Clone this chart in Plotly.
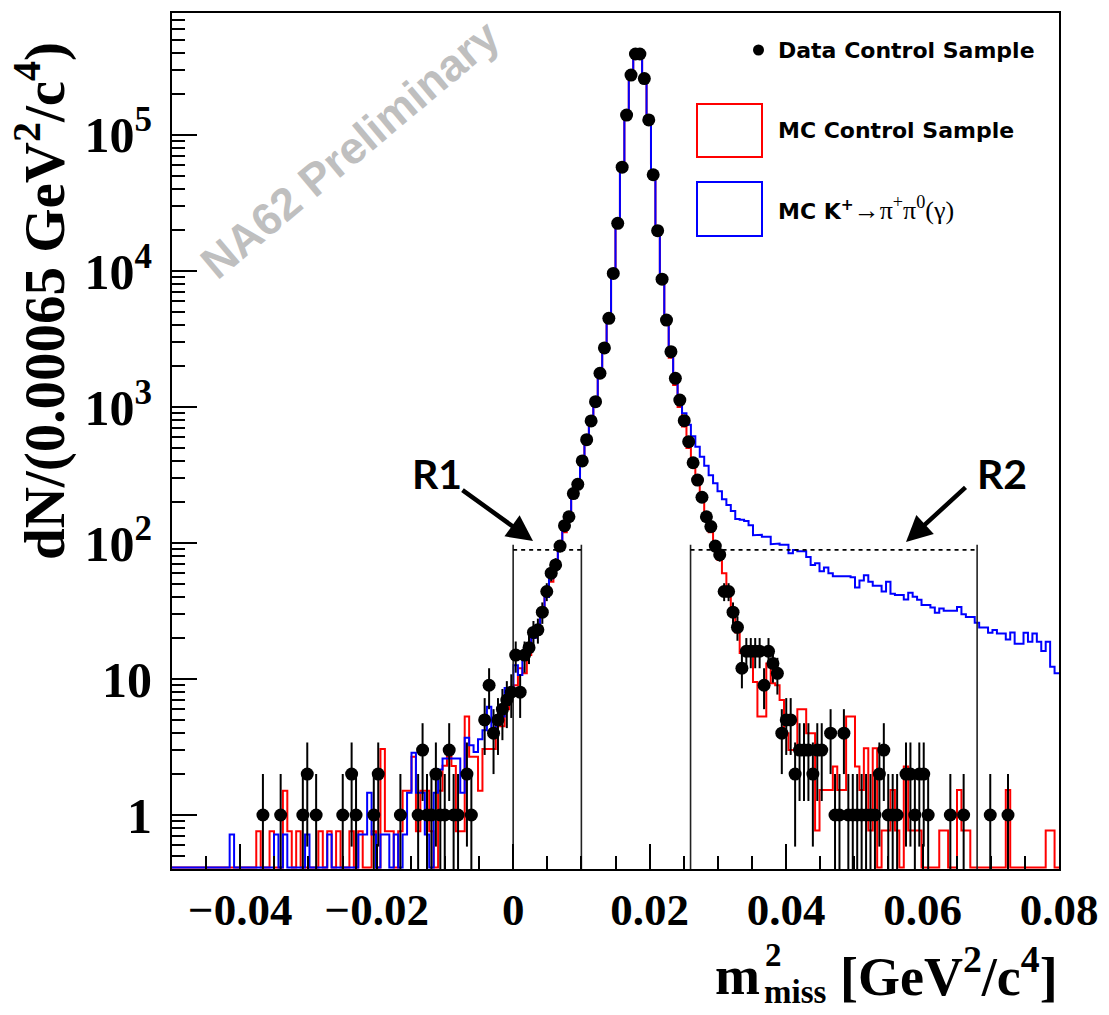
import plotly.graph_objects as go
import math

# ---------------- histogram definition ----------------
X_MIN, X_MAX, N_BINS = -0.05, 0.08, 200   # bin width 0.00065

# Data control sample (counts per bin, bins 0..199)
data_counts = [
    0, 0, 0, 0, 0, 0, 0, 0, 0, 0,
    0, 0, 0, 0, 0, 0, 0, 0, 0, 0,
    1, 0, 0, 0, 1, 0, 0, 0, 0, 1,
    2, 0, 1, 0, 0, 0, 0, 0, 1, 0,
    2, 1, 0, 0, 0, 1, 2, 0, 0, 0,
    0, 1, 0, 0, 0, 1, 3, 1, 1, 2,
    1, 1, 3, 1, 1, 0, 2, 1, 0, 0,
    5, 9, 4, 5, 6, 7, 8, 15, 8, 15,
    17, 22, 23, 31, 44, 60, 69, 95, 134, 156,
    231, 270, 401, 575, 790, 1094, 1770, 2720, 4490, 9600,
    22400, 58000, 140000, 276000, 394000, 394000, 260000, 129000, 51000, 19800,
    8700, 4360, 2550, 1625, 1125, 793, 556, 389, 290, 217,
    156, 132, 95, 82, 44, 44, 31, 24, 12, 16,
    16, 16, 16, 9, 16, 13, 11, 4, 5, 5,
    2, 3, 3, 3, 2, 3, 3, 0, 4, 1,
    1, 4, 1, 1, 1, 1, 1, 1, 1, 2,
    3, 1, 1, 1, 0, 2, 2, 1, 2, 2,
    1, 0, 0, 0, 0, 1, 0, 0, 1, 0,
    0, 0, 0, 0, 1, 0, 0, 0, 1, 0,
    0, 0, 0, 0, 0, 0, 0, 0, 0, 0,
]

# MC control sample (normalised)
mc_control = [
    0, 0, 0, 0, 0, 0, 0, 0, 0, 0,
    0, 0, 0, 0, 0, 0, 0, 0, 0, 0.76,
    0, 0, 0.76, 0, 0, 1.51, 0.76, 0, 0.76, 0,
    0, 0, 0, 0.76, 0, 0.76, 0, 0.76, 0, 0,
    0.76, 0, 0.76, 0, 0, 0.76, 0, 3.06, 0.76, 0.76,
    0, 0.76, 1.51, 1.51, 2.68, 0.76, 1.51, 1.51, 0.76, 0,
    1.51, 2.3, 2.68, 2.29, 0.76, 0.76, 5.3, 2.68, 2.68, 1.51,
    3.06, 3.06, 3.06, 5.3, 4.5, 6, 8, 9, 12, 11,
    15, 20, 23, 29, 40, 52, 68, 92, 120, 155,
    215, 280, 380, 540, 760, 1080, 1720, 2680, 4600, 9700,
    22000, 59000, 140000, 280000, 400000, 400000, 265000, 132000, 51000, 20000,
    8400, 4000, 2300, 1450, 1000, 720, 500, 360, 270, 205,
    150, 120, 92, 75, 60, 42, 30, 22, 15.5, 15.5,
    15.5, 9.5, 5.3, 5.3, 13, 9.3, 9, 7, 4, 3,
    3, 6, 6, 4, 4, 0.77, 1.53, 1.53, 1.53, 2.27,
    1.53, 1.53, 5.3, 5.3, 2.27, 1.53, 3.1, 0.77, 3.1, 0,
    0.77, 0.77, 1.53, 0.77, 0, 2.27, 0.77, 0.77, 0.77, 0,
    0, 0, 0, 0.77, 0.77, 0, 0, 1.53, 0.77, 0.77,
    0, 0, 0, 0, 0, 0, 0, 0, 1.53, 0,
    0, 0, 0, 0, 0, 0, 0, 0.77, 0.77, 0,
]

# MC K+ -> pi+ pi0 (gamma) (normalised)
mc_kpi = [
    0, 0, 0, 0, 0, 0, 0, 0, 0, 0,
    0, 0, 0, 0.72, 0, 0, 0, 0, 0, 0,
    0, 0, 0, 0.72, 0, 0.72, 0, 0, 0, 0,
    0.72, 0, 0, 0, 0, 0.72, 0, 0, 0, 0,
    0, 0, 0.72, 0.72, 1.46, 0.72, 0, 0.72, 0.72, 0,
    0.72, 0, 0.72, 1.46, 2.87, 1.46, 1.46, 0.72, 0, 1.46,
    2.16, 2.6, 2.6, 2.6, 2.6, 1.46, 3.7, 3.26, 2.9, 3.6,
    4.2, 6.25, 4.2, 5.3, 5.3, 8.6, 8.6, 12.6, 10.7, 14,
    17, 20, 24, 30, 40, 55, 70, 90, 125, 160,
    220, 290, 390, 550, 780, 1100, 1700, 2700, 4700, 9800,
    22000, 60000, 140000, 280000, 400000, 400000, 270000, 135000, 52000, 20500,
    9000, 4400, 2700, 1750, 1200, 900, 740, 610, 510, 430,
    370, 315, 275, 240, 210, 190, 172, 150, 148, 145,
    135, 114, 115, 111, 111, 98, 99, 97, 97, 84,
    89, 87, 87, 79, 69, 71, 62, 66, 60, 57,
    57, 57, 57, 56, 47, 53, 58, 52, 48.5, 48.5,
    44, 52, 42.4, 41.4, 41.4, 38.5, 43, 40.3, 38.2, 35,
    35, 33.5, 30.7, 33, 31.8, 32, 31.8, 33.8, 29.9, 28.6,
    28.6, 25.9, 23.9, 23.9, 21.9, 22.9, 21.6, 21.6, 19.5, 22,
    18.2, 18.2, 21.9, 18.8, 21.6, 18.8, 16.1, 18.8, 12.3, 11,
]

# signal regions (x limits) and the box heights
r1_limits = [0.0, 0.01]
r2_limits = [0.026, 0.068]
box_top = 97
box_dash = 89

x_tick_vals = [-0.04, -0.02, 0, 0.02, 0.04, 0.06, 0.08]
x_tick_text = ["\u22120.04", "\u22120.02", "0", "0.02", "0.04", "0.06", "0.08"]
y_tick_vals = [1, 10, 100, 1000, 10000, 100000]
y_tick_text = ["1", "10", "10<sup>2</sup>", "10<sup>3</sup>", "10<sup>4</sup>", "10<sup>5</sup>"]

# ---------------- geometry ----------------
W, H = 1109, 1015
L, R, T, B = 172, 1059, 13, 869
Y_LOG_RANGE = [-0.397, 5.897]
HIST_FLOOR = 10 ** (Y_LOG_RANGE[0] + 0.011)   # empty bins run along the frame bottom
ERR_FLOOR = 1e-3                               # error bars reaching zero leave the frame

width = (X_MAX - X_MIN) / N_BINS
edges = [X_MIN + i * width for i in range(N_BINS + 1)]
centers = [X_MIN + (i + 0.5) * width for i in range(N_BINS)]


def px(xp):
    return (xp - L) / (R - L)


def py(yp):
    return (B - yp) / (B - T)


def step(values):
    xs, ys = [], []
    for i, v in enumerate(values):
        val = v if v > 0 else HIST_FLOOR
        xs += [edges[i], edges[i + 1]]
        ys += [val, val]
    return xs, ys


fig = go.Figure()

rx, ry = step(mc_control)
fig.add_trace(go.Scatter(x=rx, y=ry, mode="lines",
                         line=dict(color="#ff0000", width=2), hoverinfo="skip"))
bx, by = step(mc_kpi)
fig.add_trace(go.Scatter(x=bx, y=by, mode="lines",
                         line=dict(color="#0000ff", width=2), hoverinfo="skip"))

# region boxes
for lo, hi in (r1_limits, r2_limits):
    for xv in (lo, hi):
        fig.add_trace(go.Scatter(x=[xv, xv], y=[ERR_FLOOR, box_top], mode="lines",
                                 line=dict(color="#222222", width=1.6), hoverinfo="skip"))
    fig.add_trace(go.Scatter(x=[lo, hi], y=[box_dash, box_dash], mode="lines",
                             line=dict(color="#000000", width=1.6, dash="4px,4px"),
                             hoverinfo="skip"))

# data error bars
ex, ey = [], []
dx, dy = [], []
for c, n in zip(centers, data_counts):
    if n > 0:
        e = math.sqrt(n)
        lo = n - e if n - e > 0 else ERR_FLOOR
        ex += [c, c, None]
        ey += [lo, n + e, None]
        dx.append(c)
        dy.append(n)
fig.add_trace(go.Scatter(x=ex, y=ey, mode="lines",
                         line=dict(color="#000000", width=2), hoverinfo="skip"))
fig.add_trace(go.Scatter(x=dx, y=dy, mode="markers",
                         marker=dict(color="#000000", size=13, symbol="circle"),
                         hoverinfo="skip"))

serif = "Liberation Serif"
sans = "Liberation Sans"

fig.update_layout(
    width=W, height=H,
    margin=dict(l=L, r=W - R, t=T, b=H - B),
    paper_bgcolor="white", plot_bgcolor="white",
    showlegend=False,
    xaxis=dict(
        range=[X_MIN, X_MAX], showgrid=False, zeroline=False,
        showline=True, linecolor="black", linewidth=2, mirror=True,
        ticks="inside", ticklen=25, tickwidth=1.5, tickcolor="black",
        tickvals=x_tick_vals, ticktext=x_tick_text,
        tickfont=dict(family=serif, size=45, color="black", weight="bold"),
        minor=dict(ticks="inside", ticklen=13, tickwidth=1.5, tickcolor="black",
                   dtick=0.005, tick0=0, showgrid=False),
    ),
    yaxis=dict(
        type="log", range=Y_LOG_RANGE, showgrid=False, zeroline=False,
        showline=True, linecolor="black", linewidth=2, mirror=True,
        ticks="inside", ticklen=25, tickwidth=1.5, tickcolor="black",
        tickvals=y_tick_vals, ticktext=y_tick_text,
        tickfont=dict(family=serif, size=50, color="black", weight="bold"),
        ticklabelstandoff=8,
        minor=dict(ticks="inside", ticklen=13, tickwidth=1.5, tickcolor="black",
                   dtick="D1", showgrid=False),
    ),
)

title_font = dict(family=serif, size=54, color="black", weight="bold")
small_font = dict(family=serif, size=33, color="black", weight="bold")

ann = []
# y title
ann.append(dict(x=px(40), y=py(301), xref="paper", yref="paper",
                text="dN/(0.00065 GeV<sup>2</sup>/c<sup>4</sup>)", textangle=-90,
                showarrow=False, xanchor="center", yanchor="middle",
                font=dict(family=serif, size=57, color="black", weight="bold")))
# x title: m with stacked 2 / miss, then the unit
ann.append(dict(x=px(762), y=py(976), xref="paper", yref="paper", text="m",
                showarrow=False, xanchor="right", yanchor="middle", font=title_font))
ann.append(dict(x=px(763), y=py(955), xref="paper", yref="paper", text="2",
                showarrow=False, xanchor="left", yanchor="middle", font=small_font))
ann.append(dict(x=px(762), y=py(992), xref="paper", yref="paper", text="miss",
                showarrow=False, xanchor="left", yanchor="middle", font=small_font))
ann.append(dict(x=px(1060), y=py(973), xref="paper", yref="paper",
                text="[GeV<sup>2</sup>/c<sup>4</sup>]",
                showarrow=False, xanchor="right", yanchor="middle", font=title_font))
# watermark
ann.append(dict(x=px(350), y=py(150), xref="paper", yref="paper",
                text="NA62 Preliminary", textangle=-40, showarrow=False,
                xanchor="center", yanchor="middle",
                font=dict(family=sans, size=45, color="#bfbfbf", weight="bold")))
# legend texts
leg_font = dict(family="DejaVu Sans", size=22, color="black", weight="bold")
ann.append(dict(x=px(776), y=py(50), xref="paper", yref="paper",
                text="Data Control Sample", showarrow=False,
                xanchor="left", yanchor="middle", font=leg_font))
ann.append(dict(x=px(776), y=py(130), xref="paper", yref="paper",
                text="MC Control Sample", showarrow=False,
                xanchor="left", yanchor="middle", font=leg_font))
ann.append(dict(x=px(776), y=py(209), xref="paper", yref="paper",
                text="MC K<sup>+</sup><span style=\"font-family:'Liberation Serif';"
                     "font-weight:normal;font-size:26px\">\u2192\u03c0<sup>+</sup>"
                     "\u03c0<sup>0</sup>(\u03b3)</span>",
                showarrow=False, xanchor="left", yanchor="middle", font=leg_font))
# R labels and arrows
rfont = dict(family="Lato", size=41, color="black", weight="bold")
ann.append(dict(x=px(437), y=py(473), xref="paper", yref="paper", text="R1",
                showarrow=False, xanchor="center", yanchor="middle", font=rfont))
ann.append(dict(x=px(1002), y=py(473), xref="paper", yref="paper", text="R2",
                showarrow=False, xanchor="center", yanchor="middle", font=rfont))
ann.append(dict(x=px(533), y=py(541), xref="paper", yref="paper", text="",
                showarrow=True, ax=-72, ay=-52, arrowhead=2, arrowsize=1.15,
                arrowwidth=4.5, arrowcolor="black"))
ann.append(dict(x=px(906), y=py(542), xref="paper", yref="paper", text="",
                showarrow=True, ax=61, ay=-56, arrowhead=2, arrowsize=1.15,
                arrowwidth=4.5, arrowcolor="black"))
fig.update_layout(annotations=ann)

# legend symbols
shapes = [
    dict(type="circle", xref="paper", yref="paper",
         x0=px(753), x1=px(764), y0=py(55.5), y1=py(44.5),
         fillcolor="black", line=dict(color="black", width=0)),
    dict(type="rect", xref="paper", yref="paper",
         x0=px(697), x1=px(762), y0=py(157), y1=py(104),
         line=dict(color="#ff0000", width=2), fillcolor="rgba(0,0,0,0)"),
    dict(type="rect", xref="paper", yref="paper",
         x0=px(697), x1=px(762), y0=py(236), y1=py(182),
         line=dict(color="#0000ff", width=2), fillcolor="rgba(0,0,0,0)"),
]
fig.update_layout(shapes=shapes)

fig.write_html("out.html")
